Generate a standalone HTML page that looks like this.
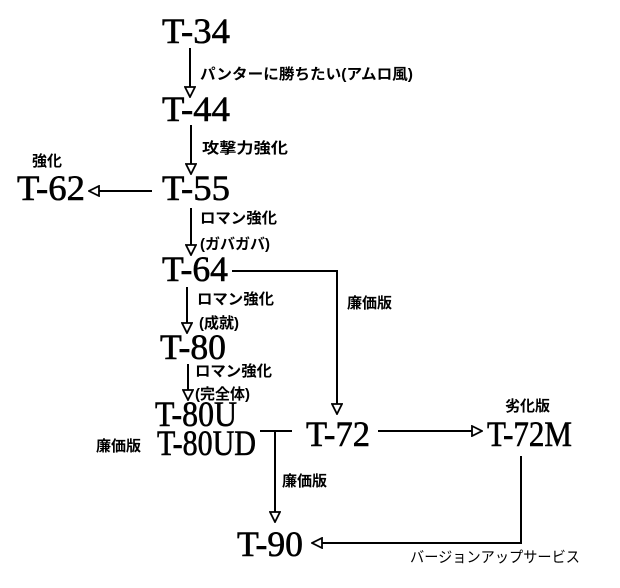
<!DOCTYPE html>
<html><head><meta charset="utf-8"><style>
html,body{margin:0;padding:0;background:#fff;}
svg{display:block}
.t{font-family:"Liberation Serif",serif;font-size:36px;fill:#000;stroke:#000;stroke-width:0.6}
.j{font-family:"Liberation Sans","Noto Sans CJK JP",sans-serif;font-size:15px;font-weight:bold;fill:#000}
</style></head><body>
<svg width="620" height="588" viewBox="0 0 620 588" xmlns="http://www.w3.org/2000/svg">
<defs>
<marker id="a" viewBox="0 0 12 12" refX="11" refY="6" markerWidth="12" markerHeight="12" markerUnits="userSpaceOnUse" orient="auto">
<path d="M1,1 L11,6 L1,11 Z" fill="#fff" stroke="#000" stroke-width="1.8"/>
</marker>
</defs>
<g stroke="#000" stroke-width="2" fill="none" marker-end="url(#a)">
<line x1="190" y1="48" x2="190" y2="97"/>
<line x1="191" y1="125" x2="191" y2="174"/>
<line x1="152" y1="191" x2="89" y2="191"/>
<line x1="191" y1="208" x2="191" y2="255"/>
<polyline points="232,271 337,271 337,414"/>
<line x1="187" y1="287" x2="187" y2="333"/>
<line x1="188" y1="364" x2="188" y2="400"/>
<line x1="275" y1="431" x2="275" y2="522"/>
<line x1="378" y1="431" x2="482" y2="431"/>
<polyline points="521,456 521,543 312,543"/>
</g>
<line x1="260" y1="431" x2="292" y2="431" stroke="#000" stroke-width="2"/>
<g class="t">
<text x="162" y="43" textLength="68" lengthAdjust="spacingAndGlyphs">T-34</text>
<text x="162" y="121" textLength="68" lengthAdjust="spacingAndGlyphs">T-44</text>
<text x="162" y="200" textLength="68" lengthAdjust="spacingAndGlyphs">T-55</text>
<text x="17" y="200" textLength="68" lengthAdjust="spacingAndGlyphs">T-62</text>
<text x="162" y="281" textLength="66" lengthAdjust="spacingAndGlyphs">T-64</text>
<text x="160" y="359" textLength="66" lengthAdjust="spacingAndGlyphs">T-80</text>
<text x="155" y="426" textLength="82" lengthAdjust="spacingAndGlyphs">T-80U</text>
<text x="157" y="455" textLength="99" lengthAdjust="spacingAndGlyphs">T-80UD</text>
<text x="306" y="446" textLength="64" lengthAdjust="spacingAndGlyphs">T-72</text>
<text x="487" y="446" textLength="85" lengthAdjust="spacingAndGlyphs">T-72M</text>
<text x="237" y="556" textLength="66" lengthAdjust="spacingAndGlyphs">T-90</text>
</g>
<g class="j">
<text x="200" y="79" textLength="213" lengthAdjust="spacingAndGlyphs">パンターに勝ちたい(アムロ風)</text>
<text x="202" y="153" textLength="86" lengthAdjust="spacingAndGlyphs">攻撃力強化</text>
<text x="32" y="166">強化</text>
<text x="200" y="223" textLength="77" lengthAdjust="spacingAndGlyphs">ロマン強化</text>
<text x="200" y="249">(ガバガバ)</text>
<text x="347" y="308">廉価版</text>
<text x="197" y="304" textLength="77" lengthAdjust="spacingAndGlyphs">ロマン強化</text>
<text x="199" y="328">(成就)</text>
<text x="195" y="376" textLength="77" lengthAdjust="spacingAndGlyphs">ロマン強化</text>
<text x="195" y="399">(完全体)</text>
<text x="96" y="451">廉価版</text>
<text x="282" y="486">廉価版</text>
<text x="505" y="411">劣化版</text>
<text x="410" y="562" textLength="170" lengthAdjust="spacingAndGlyphs" style="font-weight:normal">バージョンアップサービス</text>
</g>
</svg>
</body></html>
